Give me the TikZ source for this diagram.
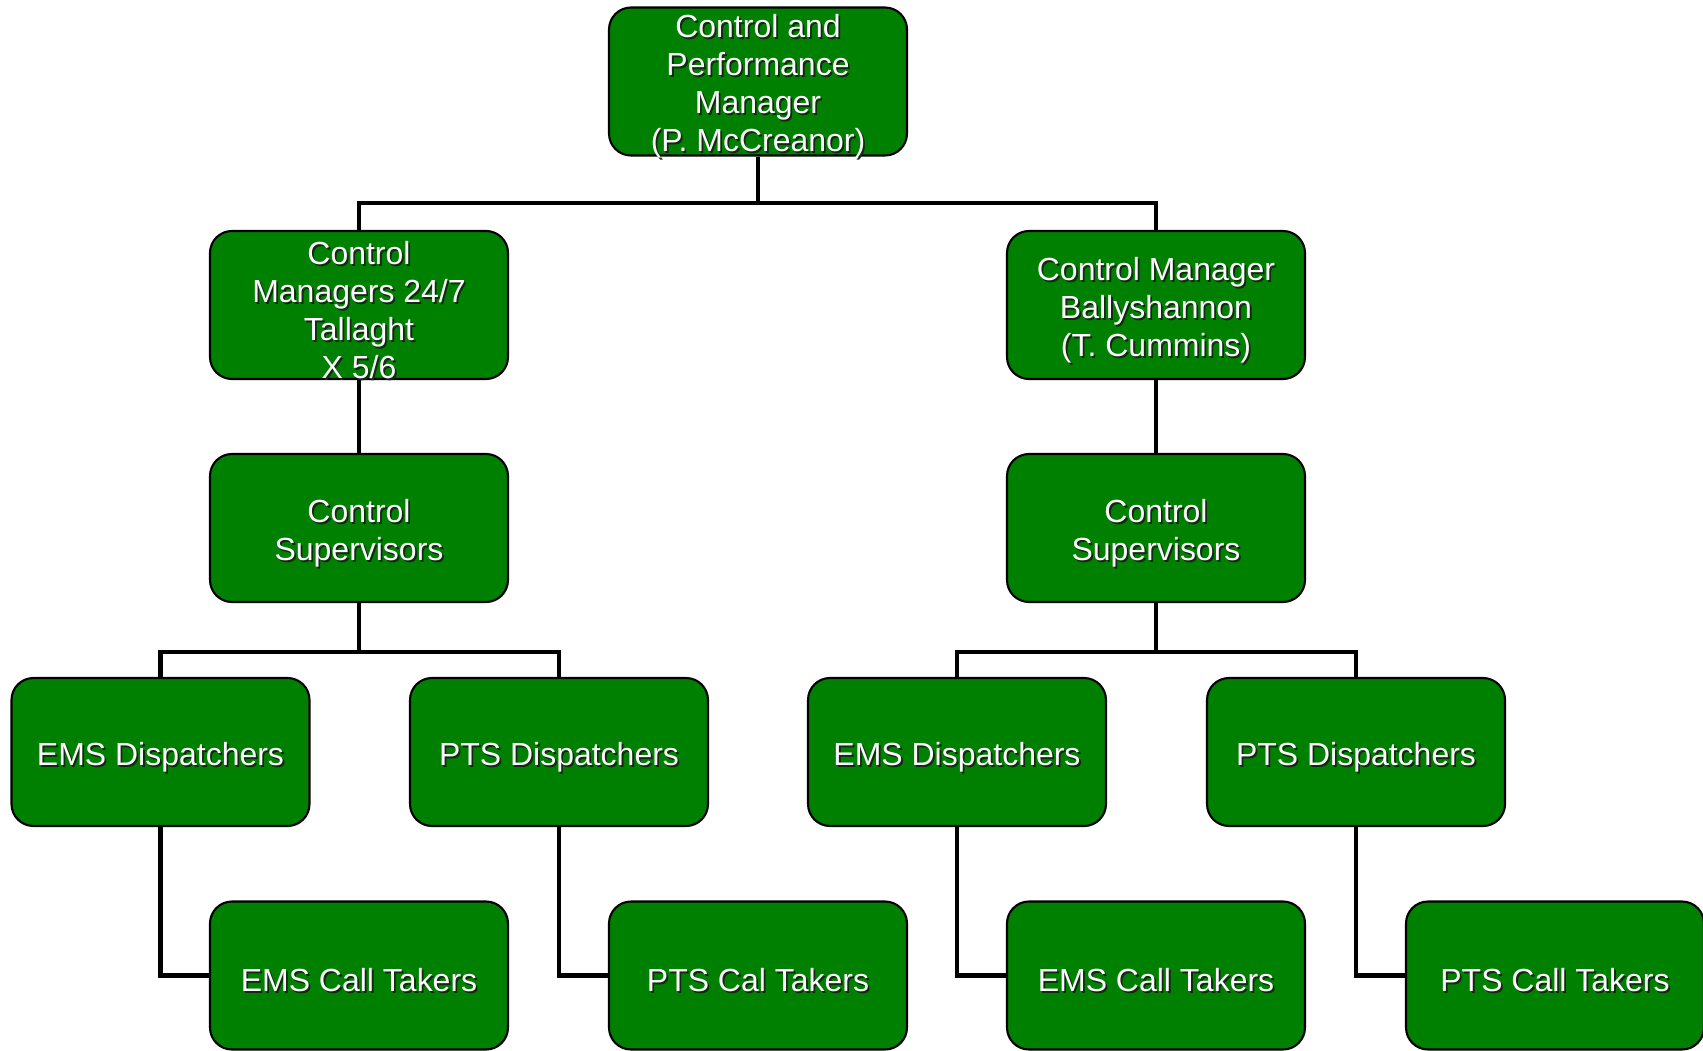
\documentclass[tikz,border=0pt]{standalone}
\usepackage{fontspec}
\setmainfont{Liberation Sans}
\definecolor{boxgreen}{RGB}{0,128,0}
\definecolor{txtshadow}{RGB}{20,40,20}
\tikzset{
    unit/.style={draw=black, line width=0.6pt, fill=boxgreen, rounded corners=0.22cm,
        minimum width=2.98cm, minimum height=1.48cm, inner sep=0pt},
    caption/.style={align=center, text=white, inner sep=0pt,
        font=\fontsize{9.1pt}{10.8pt}\selectfont},
    captionshadow/.style={caption, text=txtshadow},
    link/.style={line width=1.3pt, black}
}
% box with shadowed white text
\newcommand{\orgbox}[3]{%
    \node[unit] (#1) at (#2) {};
    \node[captionshadow] at ([shift={(0.018cm,-0.068cm)}]#1) {#3};
    \node[caption] at ([yshift=-0.05cm]#1) {#3};
}
\begin{document}
\begin{tikzpicture}
    \useasboundingbox (0,0) rectangle (17.03,-10.51);

    % top
    \orgbox{cpm}{7.58,-0.815}{Control and\\Performance\\Manager\\(P. McCreanor)}

    % managers
    \orgbox{cmt}{3.59,-3.05}{Control\\Managers 24/7\\Tallaght\\X 5/6}
    \orgbox{cmb}{11.56,-3.05}{Control Manager\\Ballyshannon\\(T. Cummins)}

    % supervisors
    \orgbox{cst}{3.59,-5.28}{Control\\Supervisors}
    \orgbox{csb}{11.56,-5.28}{Control\\Supervisors}

    % dispatchers
    \orgbox{emsdt}{1.605,-7.52}{EMS Dispatchers}
    \orgbox{ptsdt}{5.59,-7.52}{PTS Dispatchers}
    \orgbox{emsdb}{9.57,-7.52}{EMS Dispatchers}
    \orgbox{ptsdb}{13.56,-7.52}{PTS Dispatchers}

    % call takers
    \orgbox{emsct}{3.59,-9.755}{EMS Call Takers}
    \orgbox{ptsct}{7.58,-9.755}{PTS Cal Takers}
    \orgbox{emscb}{11.56,-9.755}{EMS Call Takers}
    \orgbox{ptscb}{15.55,-9.755}{PTS Call Takers}

    \coordinate (bustop) at (0,-2.03);
    \coordinate (buslow) at (0,-6.52);

    \draw[link] (cpm.south) -- (cpm.south |- bustop) -| (cmt.north);
    \draw[link] (cpm.south |- bustop) -| (cmb.north);
    \draw[link] (cmt.south) -- (cst.north);
    \draw[link] (cmb.south) -- (csb.north);

    \draw[link] (cst.south) -- (cst.south |- buslow) -| (emsdt.north);
    \draw[link] (cst.south |- buslow) -| (ptsdt.north);
    \draw[link] (csb.south) -- (csb.south |- buslow) -| (emsdb.north);
    \draw[link] (csb.south |- buslow) -| (ptsdb.north);

    \draw[link] (emsdt.south) |- (emsct.west);
    \draw[link] (ptsdt.south) |- (ptsct.west);
    \draw[link] (emsdb.south) |- (emscb.west);
    \draw[link] (ptsdb.south) |- (ptscb.west);
\end{tikzpicture}
\end{document}
